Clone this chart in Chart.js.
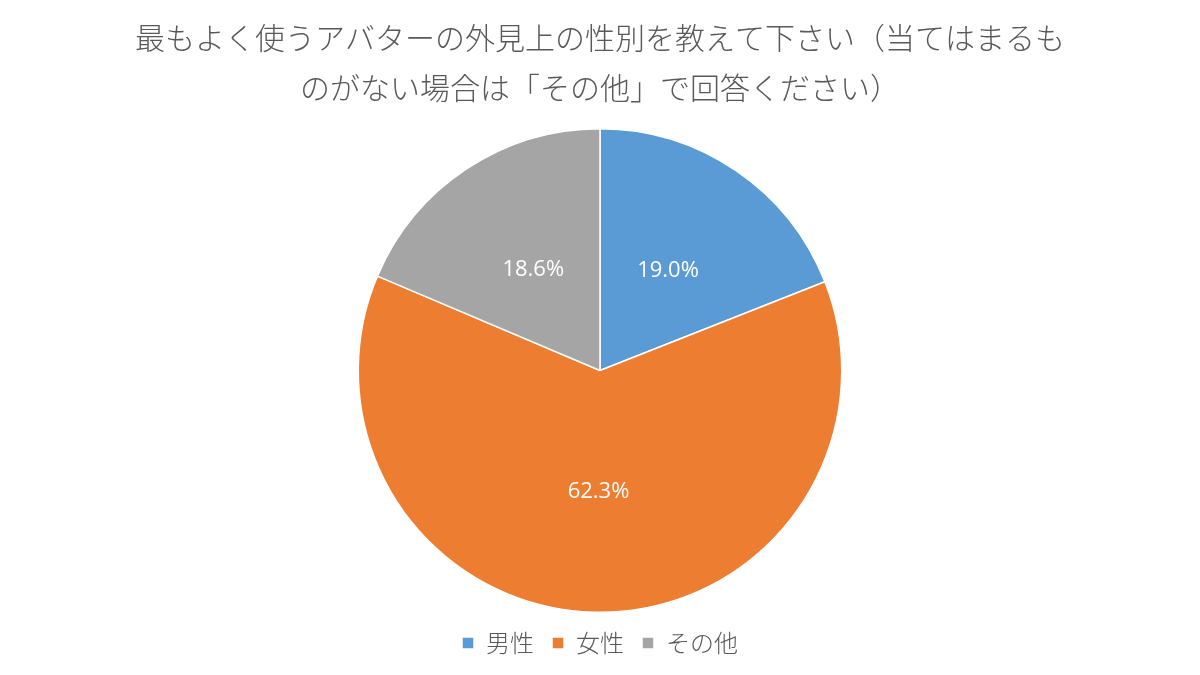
<!DOCTYPE html>
<html>
<head>
<meta charset="utf-8">
<script src="https://cdn.jsdelivr.net/npm/chart.js@4"></script>
<style>
  html, body { margin: 0; padding: 0; background: #fff; }
  #wrap { width: 1200px; height: 675px; }
</style>
</head>
<body>
<div id="wrap"><canvas id="pieChart" width="1200" height="675"></canvas></div>
<script>
// data
const titleLines = ["最もよく使うアバターの外見上の性別を教えて下さい（当てはまるも", "のがない場合は「その他」で回答ください）"];
const categories = ["男性", "女性", "その他"];
const shares = [19.0, 62.3, 18.6];
const colors = ["#5B9BD5", "#ED7D31", "#A5A5A5"];

const jpFont = "'Noto Sans CJK JP', 'Noto Sans', sans-serif";

// percent labels inside each slice, at half the radius
const sliceLabels = {
  id: "sliceLabels",
  afterDatasetsDraw(chart) {
    const ctx = chart.ctx;
    const meta = chart.getDatasetMeta(0);
    ctx.save();
    ctx.fillStyle = "#ffffff";
    ctx.font = "22px 'Open Sans', 'Noto Sans', sans-serif";
    ctx.textAlign = "center";
    ctx.textBaseline = "middle";
    meta.data.forEach((arc, i) => {
      const mid = (arc.startAngle + arc.endAngle) / 2;
      const r = arc.outerRadius * 0.5;
      ctx.fillText(shares[i].toFixed(1) + "%", arc.x + Math.cos(mid) * r, arc.y + Math.sin(mid) * r);
    });
    ctx.restore();
  }
};

new Chart(document.getElementById("pieChart"), {
  type: "pie",
  data: {
    labels: categories,
    datasets: [{
      data: shares,
      backgroundColor: colors,
      borderColor: "#ffffff",
      borderWidth: 1.5
    }]
  },
  options: {
    responsive: false,
    animation: false,
    layout: { padding: { top: 0, bottom: 10 } },
    plugins: {
      title: {
        display: true,
        text: titleLines,
        color: "#595959",
        font: { family: jpFont, size: 30, weight: 300, lineHeight: 1.667 },
        padding: { top: 13, bottom: 15 }
      },
      legend: {
        position: "bottom",
        labels: {
          color: "#595959",
          font: { family: jpFont, size: 24, weight: 300 },
          boxWidth: 12,
          boxHeight: 12,
          padding: 18
        }
      },
      tooltip: { enabled: false }
    }
  },
  plugins: [sliceLabels]
});
</script>
</body>
</html>
